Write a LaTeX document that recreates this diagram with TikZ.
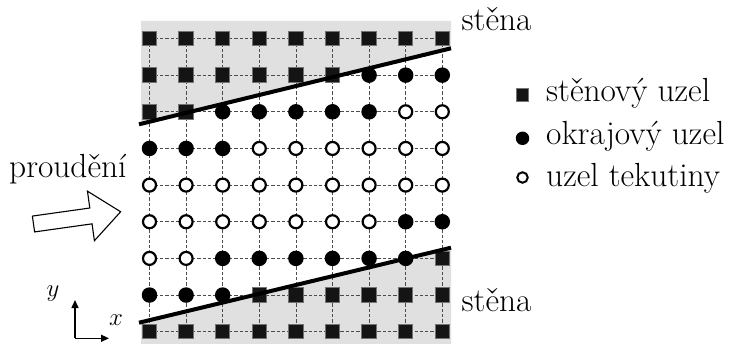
\documentclass[tikz,border=0pt]{standalone}
\usetikzlibrary{backgrounds,arrows.meta}
\begin{document}
\begin{tikzpicture}[x=1pt,y=-1pt,
  wallnode/.style={rectangle, fill=black!92, draw=black!55, line width=1pt, minimum size=14.5pt, inner sep=0pt},
  edgenode/.style={circle, fill=black, minimum size=15.5pt, inner sep=0pt},
  fluidnode/.style={circle, fill=white, draw=black, line width=2.2pt, minimum size=13pt, inner sep=0pt},
  nS/.style={wallnode}, nB/.style={edgenode}, nF/.style={fluidnode},
  gridline/.style={draw=black!70, line width=0.8pt, dash pattern=on 3.3pt off 2pt},
  wall/.style={line width=4pt},
  lbl/.style={font=\fontsize{33.4}{40}\selectfont, inner sep=0pt, anchor=base west},
  axlbl/.style={font=\fontsize{28}{32}\selectfont, inner sep=0pt}]
\useasboundingbox (0,0) rectangle (730,344);
% nodes
\foreach \row [count=\r] in {
  {S,S,S,S,S,S,S,S,S},
  {S,S,S,S,S,S,B,B,B},
  {S,S,B,B,B,B,B,F,F},
  {B,B,B,F,F,F,F,F,F},
  {F,F,F,F,F,F,F,F,F},
  {F,F,F,F,F,F,F,B,B},
  {F,F,B,B,B,B,B,B,S},
  {B,B,B,S,S,S,S,S,S},
  {S,S,S,S,S,S,S,S,S}} {
  \foreach \t [count=\c] in \row {
    \node[n\t] (n-\r-\c) at ({149.5+(\c-1)*36.6}, {38.5+(\r-1)*36.65}) {};
  }
}
% walls
\coordinate (wt1) at (139,124.3);
\coordinate (wt2) at (451,48.3);
\coordinate (wb1) at (139,322.7);
\coordinate (wb2) at (451,247.7);
\begin{pgfonlayer}{background}
  \fill[black!12] (141,21) -- (451,21) -- (451,48.3) -- (141,123.8) -- cycle;
  \fill[black!12] (141,322.2) -- (451,247.7) -- (451,344) -- (141,344) -- cycle;
  \foreach \r in {1,...,9} {
    \draw[gridline] (n-\r-1.center) -- (n-\r-9.center);
    \draw[gridline] (n-1-\r.center) -- (n-9-\r.center);
  }
\end{pgfonlayer}
\draw[wall] (wt1) -- (wt2);
\draw[wall] (wb1) -- (wb2);
% labels
\node[lbl] (s1) at (461.5,31) {stěna};
\node[lbl] (s2) at (461.5,312) {stěna};
\node[lbl] (pr) at (9,178) {proudění};
% legend
\node[wallnode, minimum size=12.5pt] (lg1) at (522.5,95) {};
\node[edgenode, minimum size=13.5pt] (lg2) at (522.5,138.3) {};
\node[fluidnode, minimum size=10.5pt, line width=2pt] (lg3) at (522.5,177.5) {};
\node[lbl] (lt1) at (546,101.7) {stěnový uzel};
\node[lbl] (lt2) at (546,145) {okrajový uzel};
\node[lbl] (lt3) at (546,186.5) {uzel tekutiny};
% flow arrow
\begin{scope}[shift={(33.5,224)}, rotate=8]
  \draw[line width=1.1pt, fill=white] (0,8) -- (58,8) -- (58,25) -- (88,0) -- (58,-25) -- (58,-8) -- (0,-8) -- cycle;
\end{scope}
% axes
\coordinate (o) at (75,338.3);
\coordinate (ay) at (75,300);
\coordinate (ax) at (109,338.3);
\draw[line width=1.4pt, -{Triangle[length=8pt,width=7pt]}] (o) -- (ay);
\draw[line width=1.4pt, -{Triangle[length=8pt,width=7pt]}] (o) -- (ax);
\node[axlbl] (ly) at (53,294) {$y$};
\node[axlbl] (lx) at (116,320) {$x$};
\end{tikzpicture}
\end{document}
